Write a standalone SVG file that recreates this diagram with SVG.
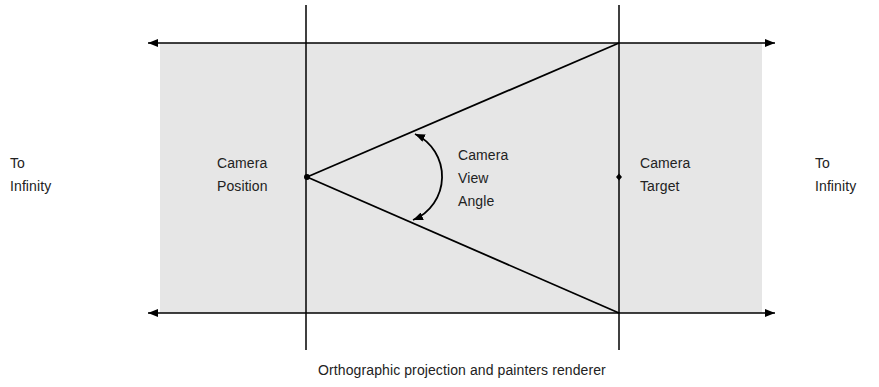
<svg xmlns="http://www.w3.org/2000/svg" width="879" height="387" viewBox="0 0 879 387">
<style>
.ln{stroke:#000;stroke-width:1.5;fill:none}
.ln2{stroke:#000;stroke-width:1.8;fill:none}
.t{font-family:"Liberation Sans",Arial,sans-serif;font-size:14px;fill:#222;letter-spacing:0.1px}
</style>
<defs>
<marker id="ah" viewBox="0 0 10 8" refX="10" refY="4" markerWidth="10" markerHeight="8" markerUnits="userSpaceOnUse" orient="auto-start-reverse">
<path d="M0,0 L10,4 L0,8 Z" fill="#000"/>
</marker>
</defs>
<rect id="field" x="160" y="43" width="602" height="270" fill="#e6e6e6"/>
<g id="connectors">
<line class="ln" x1="306" y1="5" x2="306" y2="350"/>
<line class="ln" x1="619" y1="5" x2="619" y2="350"/>
<line class="ln" x1="148" y1="43" x2="775" y2="43" marker-start="url(#ah)" marker-end="url(#ah)"/>
<line class="ln" x1="148" y1="313" x2="775" y2="313" marker-start="url(#ah)" marker-end="url(#ah)"/>
<line class="ln2" x1="307" y1="177" x2="619" y2="43"/>
<line class="ln2" x1="307" y1="177" x2="619" y2="313"/>
<path class="ln2" d="M 415 134 A 47 47 0 0 1 413 220" marker-start="url(#ah)" marker-end="url(#ah)"/>
</g>
<g id="camera-position">
<circle cx="307" cy="177" r="3" fill="#000"/>
<text class="t" x="217" y="168">Camera</text>
<text class="t" x="217" y="191">Position</text>
</g>
<g id="camera-target">
<path d="M619,173.5 L622,177 L619,180.5 L616,177 Z" fill="#000"/>
<text class="t" x="640" y="168">Camera</text>
<text class="t" x="640" y="191">Target</text>
</g>
<g id="view-angle">
<text class="t" x="458" y="160">Camera</text>
<text class="t" x="458" y="183">View</text>
<text class="t" x="458" y="206">Angle</text>
</g>
<g id="left-infinity">
<text class="t" x="10" y="168">To</text>
<text class="t" x="10" y="191">Infinity</text>
</g>
<g id="right-infinity">
<text class="t" x="815" y="168">To</text>
<text class="t" x="815" y="191">Infinity</text>
</g>
<g id="caption">
<text class="t" x="462" y="375" text-anchor="middle">Orthographic projection and painters renderer</text>
</g>
</svg>
